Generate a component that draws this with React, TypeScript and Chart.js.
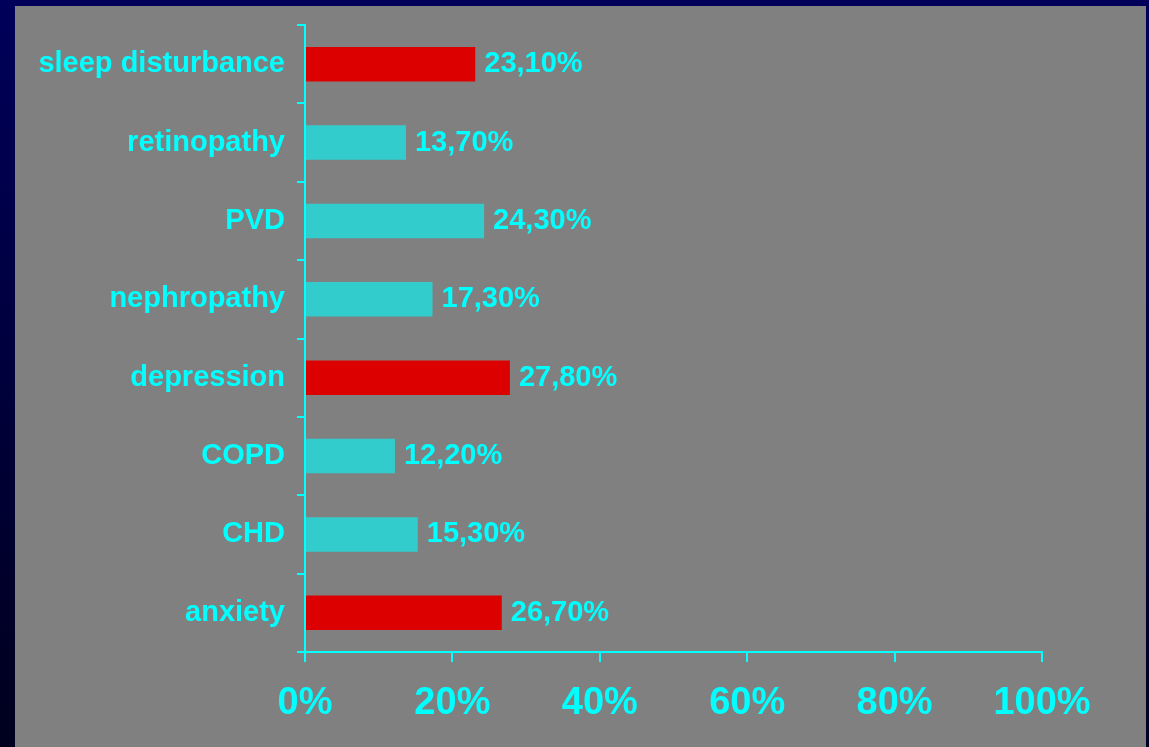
import React, { useEffect, useRef } from "react";
import { Chart, registerables } from "chart.js";

Chart.register(...registerables);

const categories = [
  "sleep disturbance",
  "retinopathy",
  "PVD",
  "nephropathy",
  "depression",
  "COPD",
  "CHD",
  "anxiety",
];
const values = [23.1, 13.7, 24.3, 17.3, 27.8, 12.2, 15.3, 26.7];
const highlighted = [true, false, false, false, true, false, false, true];
const xTickValues = [0, 20, 40, 60, 80, 100];

const CYAN = "#00FFFF";
const BAR_CYAN = "#33CCCC";
const BAR_RED = "#DD0000";
const FONT = "'Liberation Sans', Arial, sans-serif";

const valueLabelPlugin = {
  id: "valueLabels",
  afterDatasetsDraw(chart: any) {
    const ctx = chart.ctx;
    const meta = chart.getDatasetMeta(0);
    ctx.save();
    ctx.fillStyle = CYAN;
    ctx.font = `bold 29px ${FONT}`;
    ctx.textAlign = "left";
    ctx.textBaseline = "middle";
    meta.data.forEach((bar: any, i: number) => {
      const txt = values[i].toFixed(2).replace(".", ",") + "%";
      ctx.fillText(txt, bar.x + 9, bar.y);
    });
    ctx.restore();
  },
};

export default function App() {
  const ref = useRef<HTMLCanvasElement>(null);

  useEffect(() => {
    document.body.style.margin = "0";
    const chart = new Chart(ref.current!, {
      type: "bar",
      data: {
        labels: categories,
        datasets: [
          {
            data: values,
            backgroundColor: highlighted.map((h) => (h ? BAR_RED : BAR_CYAN)),
            borderWidth: 0,
            barPercentage: 0.44,
            categoryPercentage: 1,
          },
        ],
      },
      options: {
        indexAxis: "y",
        animation: false,
        responsive: false,
        maintainAspectRatio: false,
        layout: { padding: { left: 0, top: 19, right: 104, bottom: 0 } },
        plugins: {
          legend: { display: false },
          tooltip: { enabled: false },
        },
        scales: {
          x: {
            min: 0,
            max: 100,
            afterBuildTicks: (scale: any) => {
              scale.ticks = xTickValues.map((v) => ({ value: v }));
            },
            afterFit: (scale: any) => {
              scale.height = 95;
            },
            ticks: {
              color: CYAN,
              font: { family: FONT, size: 38, weight: "bold" },
              padding: 19,
              callback: (v: any) => v + "%",
              maxRotation: 0,
            },
            grid: {
              drawOnChartArea: false,
              drawTicks: true,
              tickLength: 10,
              color: CYAN,
              lineWidth: 2,
            },
            border: { display: true, color: CYAN, width: 2 },
          },
          y: {
            afterFit: (scale: any) => {
              scale.width = 290;
              scale.paddingTop = 0;
              scale.paddingBottom = 0;
            },
            ticks: {
              color: CYAN,
              font: { family: FONT, size: 29, weight: "bold" },
              padding: 12,
            },
            grid: {
              offset: true,
              drawOnChartArea: false,
              drawTicks: true,
              tickLength: 8,
              color: CYAN,
              lineWidth: 2,
            },
            border: { display: true, color: CYAN, width: 2 },
          },
        },
      },
      plugins: [valueLabelPlugin],
    } as any);
    return () => chart.destroy();
  }, []);

  return (
    <div
      style={{
        position: "relative",
        width: 1149,
        height: 747,
        background: "linear-gradient(to bottom, #00005a, #00001e)",
        overflow: "hidden",
      }}
    >
      <div
        style={{
          position: "absolute",
          left: 15,
          top: 6,
          width: 1131,
          height: 741,
          background: "#808080",
        }}
      >
        <canvas ref={ref} width={1131} height={741} style={{ display: "block" }} />
      </div>
    </div>
  );
}
